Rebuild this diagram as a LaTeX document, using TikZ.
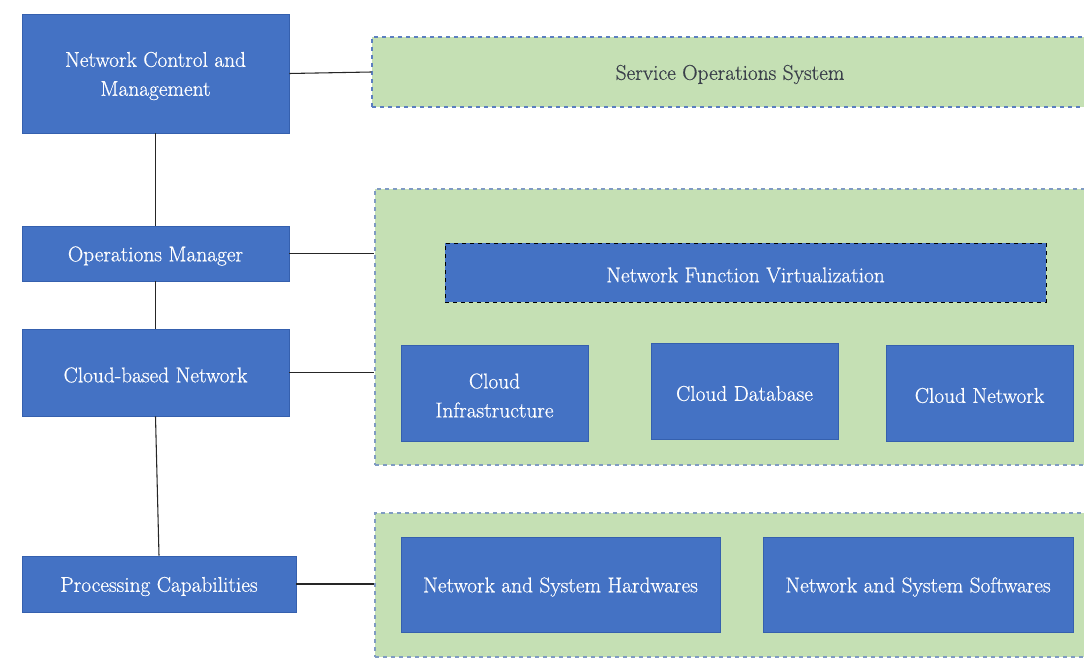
\documentclass[tikz,border=0pt]{standalone}
\usepackage{fontspec}
\setmainfont{Latin Modern Roman}[FakeBold=0.6]
\definecolor{boxblue}{HTML}{4472C4}
\definecolor{boxedge}{HTML}{3560AE}
\definecolor{zonegreen}{HTML}{C5E0B4}
\definecolor{zoneedge}{HTML}{7F9BC2}
\definecolor{sosedge}{HTML}{5B7EC0}
\definecolor{wire}{HTML}{262626}
\definecolor{darktext}{HTML}{3A3F4A}
\begin{document}
\begin{tikzpicture}[x=0.75pt,y=-0.75pt,
  font=\fontsize{16}{21.75}\selectfont,
  bluebox/.style={rectangle,fill=boxblue,draw=boxedge,line width=0.6pt,
    inner sep=0pt},
  zone/.style={rectangle,fill=zonegreen,draw=zoneedge,dashed,line width=0.8pt,
    inner sep=0pt},
  whitetext/.style={text=white,align=center,yshift=-2.5*0.75pt},
  greytext/.style={text=darktext,align=center,yshift=-2.5*0.75pt},
  wireline/.style={draw=wire,line width=0.8pt}]
\clip (0,0) rectangle (1084,660);
\fill[white] (0,0) rectangle (1084,660);

% green zones on the right
\node[zone,draw=sosedge,minimum width=716*0.75pt,minimum height=70*0.75pt,
  label={[greytext]center:Service Operations System}] (sos) at (730,72) {};
\node[zone,minimum width=713*0.75pt,minimum height=276*0.75pt]
  (cloudzone) at (731.5,327) {};
\node[zone,minimum width=713*0.75pt,minimum height=144*0.75pt]
  (hwzone) at (731.5,585) {};

% left column
\node[bluebox,minimum width=267*0.75pt,minimum height=119*0.75pt,
  label={[whitetext]center:{Network Control and\\Management}}]
  (ncm) at (155.5,73.5) {};
\node[bluebox,minimum width=267*0.75pt,minimum height=55*0.75pt,
  label={[whitetext]center:Operations Manager}] (om) at (155.5,253.5) {};
\node[bluebox,minimum width=267*0.75pt,minimum height=87*0.75pt,
  label={[whitetext]center:Cloud-based Network}] (cbn) at (155.5,372.5) {};
\node[bluebox,minimum width=274*0.75pt,minimum height=56*0.75pt,
  label={[whitetext]center:Processing Capabilities}] (pc) at (159,584) {};

% cloud zone contents
\node[bluebox,draw=black,dashed,minimum width=601*0.75pt,minimum height=59*0.75pt,
  label={[whitetext]center:Network Function Virtualization}]
  (nfv) at (745.5,272.5) {};
\node[bluebox,minimum width=187*0.75pt,minimum height=96*0.75pt,
  label={[whitetext]center:{Cloud\\Infrastructure}}] (ci) at (494.5,393) {};
\node[bluebox,minimum width=187*0.75pt,minimum height=96*0.75pt,
  label={[whitetext]center:Cloud Database}] (cd) at (744.5,391) {};
\node[bluebox,minimum width=187*0.75pt,minimum height=96*0.75pt,
  label={[whitetext]center:Cloud Network}] (cn) at (979.5,393) {};

% hardware / software zone contents
\node[bluebox,minimum width=319*0.75pt,minimum height=95*0.75pt,
  label={[whitetext]center:Network and System Hardwares}] (hw) at (560.5,584.5) {};
\node[bluebox,minimum width=310*0.75pt,minimum height=95*0.75pt,
  label={[whitetext]center:Network and System Softwares}] (sw) at (918,584.5) {};

% connectors
\draw[wireline] (ncm.south) -- (om.north);
\draw[wireline] (om.south) -- (cbn.north);
\draw[wireline] (cbn.south) -- (pc.north);
\draw[wireline] (ncm.east) -- (sos.west);
\draw[wireline] (om.east) -- (om.east -| cloudzone.west);
\draw[wireline] (cbn.east) -- (cbn.east -| cloudzone.west);
\draw[wireline] (pc.east) -- (pc.east -| hwzone.west);
\end{tikzpicture}
\end{document}
